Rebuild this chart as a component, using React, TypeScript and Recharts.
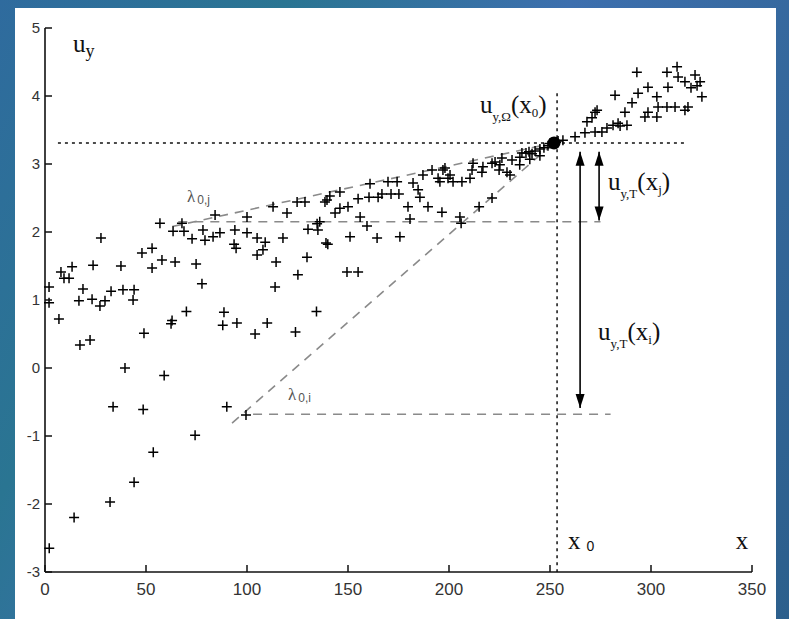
import { ScatterChart, Scatter, XAxis, YAxis, ReferenceLine } from "recharts";

const xTicks = [0, 50, 100, 150, 200, 250, 300, 350];
const yTicks = [-3, -2, -1, 0, 1, 2, 3, 4, 5];

const samples: [number, number][] = [
  [2, 1.19], [2, 0.96], [2.1, -2.65], [6.9, 0.72], [7.9, 1.41], [9.4, 1.32], [11.9, 1.32],
  [13.4, 1.49], [14.4, -2.2], [16.8, 0.99], [17.3, 0.34], [18.8, 1.16], [22.3, 0.41],
  [23.3, 1.01], [23.8, 1.51], [27.2, 0.91], [27.7, 1.91], [29.7, 0.99], [32.2, -1.97],
  [32.7, 1.13], [33.7, -0.57], [37.6, 1.5], [38.6, 1.15], [39.6, 0.0], [43.6, 1.0],
  [44.1, 1.15], [44.1, -1.68], [48, 1.69], [48.6, -0.61], [49, 0.51], [53, 1.76], [53, 1.47],
  [53.6, -1.24], [56.9, 2.13], [57.9, 1.59], [59, -0.11], [62.4, 0.65], [62.9, 0.7],
  [63.4, 2.01], [64.4, 1.56], [67.8, 2.13], [68.8, 2.01], [70, 0.83],
  [72.8, 1.9], [74.3, -0.99], [74.8, 1.53], [77.7, 1.24], [78.2, 2.03], [79.2, 1.88],
  [83.2, 1.93], [84.2, 2.25], [86.6, 1.99], [88.6, 0.82], [88, 0.63], [90, -0.57], [94, 2.03],
  [94.6, 1.76], [93.6, 1.82], [95, 0.66], [99.5, -0.69], [100, 1.99], [100, 2.22], [104, 0.5],
  [105, 1.91], [105, 1.66], [107.9, 1.74], [109, 1.85], [110, 0.66], [112.9, 2.37],
  [113.9, 1.19], [114.4, 1.56], [117.8, 1.91], [119.8, 2.28], [124, 0.53], [124.8, 2.44],
  [125.2, 1.37], [128.7, 2.44], [129.7, 1.63], [130.2, 2.04], [134.4, 0.83], [134.7, 2.12],
  [135.1, 2.03], [136, 2.15], [138.6, 2.44], [139.1, 1.84], [139.6, 2.47],
  [141, 2.53], [143.6, 2.28], [146, 2.59], [146, 2.35], [150, 2.37], [140, 1.82], [151, 1.93],
  [149.5, 1.41], [155, 1.41], [155, 2.49], [156, 2.22], [159.4, 2.09], [160.4, 2.51],
  [160.9, 2.71], [164.4, 1.91], [164.9, 2.51], [166.8, 2.56], [169.8, 2.74], [171.3, 2.56],
  [174.3, 2.74], [175.2, 2.56], [175.7, 1.93], [179.7, 2.37], [180.7, 2.19], [182.2, 2.72],
  [184.7, 2.62], [185.6, 2.51], [187.1, 2.84], [189.6, 2.37], [191.6, 2.91], [194.6, 2.79],
  [195.5, 2.74], [196.5, 2.29], [198, 2.94], [199.5, 2.79], [197, 2.91],
  [200.5, 2.84], [202, 2.74], [205.4, 2.22], [206, 2.13], [206.4, 2.74], [210.4, 2.79],
  [211.4, 2.91], [211.9, 3.01], [214.9, 2.37], [216.3, 2.88], [216.8, 2.96], [221.3, 3.01],
  [221.3, 2.5], [222.8, 3.03], [224.8, 2.91], [225.2, 2.99], [226.2, 3.09], [228.7, 2.88],
  [230.2, 2.84], [231.2, 3.06], [235, 2.99], [235.1, 3.1], [236.1, 3.16], [238.1, 3.16],
  [239.6, 3.18], [240, 3.07], [241.1, 3.15], [242.6, 3.19], [245, 3.22], [245, 3.12],
  [247, 3.24], [249, 3.27], [250, 3.3], [253, 3.32], [254, 3.34],
  [256.4, 3.35], [262.4, 3.4], [267.3, 3.46], [272.3, 3.47], [275.7, 3.47], [278.2, 3.53],
  [281.2, 3.57], [283.7, 3.6], [288.1, 3.57], [284.7, 3.56], [268.3, 3.62], [270.8, 3.68],
  [272.3, 3.76], [273.3, 3.79], [287.1, 3.76], [290.6, 3.9], [293.6, 4.04], [298.5, 4.13],
  [282.2, 4.01], [293, 4.35], [297, 3.69], [302.9, 3.69], [298.5, 3.76], [302.9, 3.99],
  [303.5, 3.84], [308.4, 4.13], [307.9, 3.84], [311.9, 3.84], [316.8, 3.79], [318.3, 3.84],
  [307.9, 4.35], [312.9, 4.43], [313.4, 4.28], [316.8, 4.21], [321.8, 4.31], [322.8, 4.15],
  [324.3, 4.21], [325.2, 3.99], [319.8, 4.12],
];

const points = samples.map(([x, y]) => ({ x, y }));

// key values of the construction
const x0 = 253.5;
const uOmega = 3.31;
const centre = [{ x: 252, y: uOmega }];
const lambdaJ = { x: 63, y: 2.08 };
const lambdaI = { x: 92.6, y: -0.81 };
const levelJ = 2.15;
const levelI = -0.68;
const arrowI = 264.9;
const arrowJ = 274.3;

const arrowUp = [{ x: arrowI, y: 3.18 }, { x: arrowJ, y: 3.18 }];
const arrowDown = [{ x: arrowI, y: -0.59 }, { x: arrowJ, y: 2.17 }];

const labels = [
  { id: "uy", x: 13.9, y: 4.65 },
  { id: "lamJ", x: 70.3, y: 2.44 },
  { id: "lamI", x: 120.3, y: -0.47 },
  { id: "uOm", x: 215.3, y: 3.75 },
  { id: "uTj", x: 278.7, y: 2.62 },
  { id: "uTi", x: 273.8, y: 0.41 },
  { id: "x0", x: 258.9, y: -2.66 },
  { id: "x", x: 342, y: -2.66 },
];

const serif = "'Liberation Serif', 'DejaVu Serif', serif";
const sans = "'Liberation Sans', Arial, sans-serif";

const Plus = (p: any) => (
  <path
    d={`M${p.cx - 5},${p.cy}h10M${p.cx},${p.cy - 5}v10`}
    stroke="#000"
    strokeWidth={1.5}
    fill="none"
  />
);

const Dot = (p: any) => <circle cx={p.cx} cy={p.cy} r={6.5} fill="#000" />;

const HeadUp = (p: any) => (
  <polygon points={`${p.cx},${p.cy} ${p.cx - 4.5},${p.cy + 14} ${p.cx + 4.5},${p.cy + 14}`} fill="#000" />
);
const HeadDown = (p: any) => (
  <polygon points={`${p.cx},${p.cy} ${p.cx - 4.5},${p.cy - 14} ${p.cx + 4.5},${p.cy - 14}`} fill="#000" />
);

const Label = (p: any) => {
  const { cx, cy } = p;
  const id = p.payload?.id;
  const base = { x: cx, y: cy, fontFamily: serif, fill: "#111" };
  if (id === "uy")
    return (
      <text {...base} fontSize={25}>
        u<tspan fontSize={18} dy={5}>y</tspan>
      </text>
    );
  if (id === "lamJ" || id === "lamI")
    return (
      <text {...base} fill="#555" fontSize={17}>
        λ<tspan fontSize={12} fontFamily={sans} dx={2} dy={2}>{id === "lamJ" ? "0,j" : "0,i"}</tspan>
      </text>
    );
  if (id === "uOm")
    return (
      <text {...base} fontSize={25}>
        u<tspan fontSize={13} dy={8}>y,Ω</tspan>
        <tspan dy={-8}>(x</tspan>
        <tspan fontSize={13} dy={4}>0</tspan>
        <tspan dy={-4}>)</tspan>
      </text>
    );
  if (id === "uTj" || id === "uTi")
    return (
      <text {...base} fontSize={25}>
        u<tspan fontSize={13} dy={8}>y,T</tspan>
        <tspan dy={-8}>(x</tspan>
        <tspan fontSize={13} dy={4}>{id === "uTj" ? "j" : "i"}</tspan>
        <tspan dy={-4}>)</tspan>
      </text>
    );
  if (id === "x0")
    return (
      <text {...base} fontSize={25}>
        x<tspan fontSize={14} fontFamily={sans} dx={6} dy={2}>0</tspan>
      </text>
    );
  return (
    <text {...base} fontSize={25}>
      x
    </text>
  );
};

const XTick = ({ x, y, payload }: any) => (
  <g>
    <line x1={x} y1={y} x2={x} y2={y - 7} stroke="#111" strokeWidth={1.5} />
    <text x={x} y={y + 23} textAnchor="middle" fontFamily={sans} fontSize={17} fill="#333">
      {payload.value}
    </text>
  </g>
);

const YTick = ({ x, y, payload }: any) => (
  <g>
    <line x1={x} y1={y} x2={x + 7} y2={y} stroke="#111" strokeWidth={1.5} />
    <text x={x - 5} y={y + 5} textAnchor="end" fontFamily={sans} fontSize={15} fill="#333">
      {payload.value}
    </text>
  </g>
);

const dotted = { stroke: "#111", strokeWidth: 1.5, strokeDasharray: "3 4" };
const dashed = { stroke: "#8a8a8a", strokeWidth: 1.6, strokeDasharray: "9 7" };

export default function App() {
  return (
    <div
      style={{
        position: "fixed",
        left: 0,
        top: 0,
        width: 789,
        height: 619,
        overflow: "hidden",
        background:
          "linear-gradient(120deg, #2f6b9e 0%, #2a7592 25%, #3d6fae 50%, #34679a 75%, #2c5f8c 100%)",
      }}
    >
      <div style={{ position: "absolute", left: 15, top: 8, width: 761, height: 611, background: "#fff" }} />
      <div style={{ position: "absolute", left: 0, top: 0 }}>
        <ScatterChart width={789} height={619} margin={{ top: 28, right: 37, bottom: 17, left: 5 }}>
          <XAxis
            type="number"
            dataKey="x"
            domain={[0, 350]}
            ticks={xTicks}
            height={30}
            tickSize={0}
            tickMargin={0}
            tick={<XTick />}
            axisLine={{ stroke: "#111", strokeWidth: 1.6 }}
            tickLine={false}
          />
          <YAxis
            type="number"
            dataKey="y"
            domain={[-3, 5]}
            ticks={yTicks}
            width={40}
            tickSize={0}
            tickMargin={0}
            tick={<YTick />}
            axisLine={{ stroke: "#111", strokeWidth: 1.6 }}
            tickLine={false}
          />
          <ReferenceLine segment={[{ x: 6.4, y: uOmega }, { x: 318, y: uOmega }]} {...dotted} />
          <ReferenceLine segment={[{ x: x0, y: 4.04 }, { x: x0, y: -3 }]} {...dotted} />
          <ReferenceLine segment={[lambdaJ, centre[0]]} {...dashed} />
          <ReferenceLine segment={[{ x: 66, y: levelJ }, { x: 275, y: levelJ }]} {...dashed} />
          <ReferenceLine segment={[lambdaI, centre[0]]} {...dashed} />
          <ReferenceLine segment={[{ x: 103, y: levelI }, { x: 280, y: levelI }]} {...dashed} />
          <ReferenceLine segment={[arrowUp[0], arrowDown[0]]} stroke="#000" strokeWidth={1.6} />
          <ReferenceLine segment={[arrowUp[1], arrowDown[1]]} stroke="#000" strokeWidth={1.6} />
          <Scatter data={points} shape={<Plus />} isAnimationActive={false} />
          <Scatter data={centre} shape={<Dot />} isAnimationActive={false} />
          <Scatter data={arrowUp} shape={<HeadUp />} isAnimationActive={false} />
          <Scatter data={arrowDown} shape={<HeadDown />} isAnimationActive={false} />
          <Scatter data={labels} shape={<Label />} isAnimationActive={false} />
        </ScatterChart>
      </div>
    </div>
  );
}
